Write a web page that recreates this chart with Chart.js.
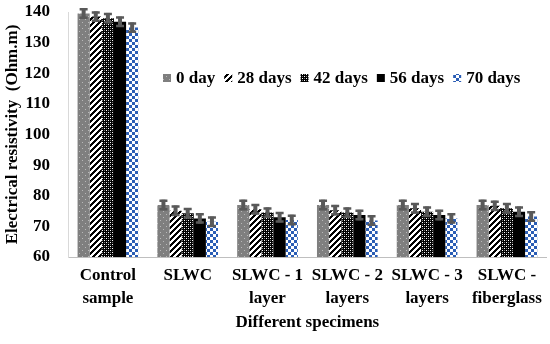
<!DOCTYPE html>
<html>
<head>
<meta charset="utf-8">
<script src="https://cdn.jsdelivr.net/npm/chart.js@4/dist/chart.umd.min.js"></script>
<style>
  html, body { margin:0; padding:0; background:#fff; }
  canvas { display:block; }
</style>
</head>
<body>
<canvas id="chart" width="550" height="344"></canvas>
<script>

const categories = [
    ["Control", "sample"],
    "SLWC",
    ["SLWC - 1", "layer"],
    ["SLWC - 2", "layers"],
    ["SLWC - 3", "layers"],
    ["SLWC -", "fiberglass"]
];

const seriesNames = ["0 day", "28 days", "42 days", "56 days", "70 days"];

const day0  = [139.5, 77.0, 77.0, 77.0, 77.0, 77.0];
const day28 = [138.5, 75.1, 75.6, 75.3, 75.9, 76.7];
const day42 = [138.0, 74.3, 74.5, 74.5, 74.8, 75.9];
const day56 = [136.8, 72.6, 73.0, 73.7, 73.7, 74.8];
const day70 = [134.9, 71.5, 72.1, 71.9, 72.6, 73.2];

const errors = [1.7, 1.7, 1.7, 1.7, 1.7];

const yTicks = [60, 70, 80, 90, 100, 110, 120, 130, 140];

const FONT = "'Liberation Serif', 'Times New Roman', serif";

// small pattern tiles
function makePattern(size, paint){
    const c = document.createElement('canvas');
    c.width = size;
    c.height = size;
    const g = c.getContext('2d');
    paint(g, size);
    return g.createPattern(c, 'repeat');
}

const patDots = makePattern(6, (g, s) => {
    g.fillStyle = '#7f7f7f';
    g.fillRect(0, 0, s, s);
    g.fillStyle = '#b8b8b8';
    g.fillRect(1, 1, 1, 1);
    g.fillRect(4, 4, 1, 1);
});

const patStripes = makePattern(6, (g, s) => {
    g.fillStyle = '#ffffff';
    g.fillRect(0, 0, s, s);
    g.fillStyle = '#000000';
    for(let x = 0; x < s; x++){
        for(let y = 0; y < s; y++){
            if((x + y) % 6 < 3) g.fillRect(x, y, 1, 1);
        }
    }
});

const patGrid = makePattern(4, (g, s) => {
    g.fillStyle = '#000000';
    g.fillRect(0, 0, s, s);
    g.fillStyle = '#ffffff';
    g.fillRect(0, 0, 1, 1);
    g.fillRect(2, 2, 1, 1);
    g.fillStyle = '#777777';
    g.fillRect(2, 0, 1, 1);
    g.fillRect(0, 2, 1, 1);
});

const patChecker = makePattern(6, (g, s) => {
    g.fillStyle = '#ffffff';
    g.fillRect(0, 0, s, s);
    g.fillStyle = '#2a5db5';
    g.fillRect(0, 0, 3, 3);
    g.fillRect(3, 3, 3, 3);
});

const fills = [patDots, patStripes, patGrid, '#000000', patChecker];
const seriesData = [day0, day28, day42, day56, day70];

const errorBarPlugin = {

    id: 'errorBars',

    afterDatasetsDraw(chart){

        const ctx = chart.ctx;
        const y = chart.scales.y;

        ctx.save();
        ctx.strokeStyle = '#595959';
        ctx.lineWidth = 4;

        chart.data.datasets.forEach((ds, i) => {

            const meta = chart.getDatasetMeta(i);

            meta.data.forEach((bar, j) => {

                const v = ds.data[j];
                const e = errors[i];
                const yt = y.getPixelForValue(v + e);
                const yb = y.getPixelForValue(v - e);

                ctx.beginPath();
                ctx.moveTo(bar.x, yt);
                ctx.lineTo(bar.x, yb);
                ctx.stroke();

                ctx.lineWidth = 2.5;
                ctx.beginPath();
                ctx.moveTo(bar.x - 4, yt + 1);
                ctx.lineTo(bar.x + 4, yt + 1);
                ctx.moveTo(bar.x - 4, yb - 1);
                ctx.lineTo(bar.x + 4, yb - 1);
                ctx.stroke();
                ctx.lineWidth = 4;
            });
        });

        ctx.restore();
    }
};

const legendPlugin = {

    id: 'innerLegend',

    afterDraw(chart){

        const ctx = chart.ctx;
        let x = 163;
        const yc = 78;

        ctx.save();
        ctx.font = "bold 17px " + FONT;
        ctx.textBaseline = 'middle';

        chart.data.datasets.forEach(ds => {

            ctx.fillStyle = ds.backgroundColor;
            ctx.fillRect(x, yc - 4, 8, 8);
            x += 13;

            ctx.fillStyle = '#000';
            ctx.fillText(ds.label, x, yc + 1);
            x += ctx.measureText(ds.label).width + 9;
        });

        ctx.restore();
    }
};

new Chart(document.getElementById('chart'), {

    type: 'bar',

    data: {
        labels: categories,
        datasets: seriesNames.map((name, i) => ({
            label: name,
            data: seriesData[i],
            backgroundColor: fills[i],
            borderWidth: 0,
            barPercentage: 1,
            categoryPercentage: 0.76
        }))
    },

    plugins: [errorBarPlugin, legendPlugin],

    options: {

        responsive: false,
        animation: false,
        devicePixelRatio: 1,

        layout: {
            padding: { top: 12, right: 2, left: 0, bottom: 0 }
        },

        plugins: {
            legend: { display: false },
            tooltip: { enabled: false }
        },

        scales: {

            x: {
                grid: { display: false, drawTicks: false },
                border: { display: true, color: '#bfbfbf', width: 1 },
                ticks: {
                    color: '#000',
                    padding: 8,
                    maxRotation: 0,
                    autoSkip: false,
                    font: { family: FONT, size: 17, weight: 'bold', lineHeight: 1.3 }
                },
                title: {
                    display: true,
                    text: 'Different specimens',
                    color: '#000',
                    padding: { top: 0, bottom: 11 },
                    font: { family: FONT, size: 17, weight: 'bold' }
                },
                afterFit(scale){
                    scale.height = 87;
                }
            },

            y: {
                min: 60,
                max: 140,
                afterBuildTicks(scale){
                    scale.ticks = yTicks.map(v => ({ value: v }));
                },
                grid: { display: false, drawTicks: false },
                border: { display: true, color: '#d9d9d9', width: 1 },
                ticks: {
                    color: '#000',
                    padding: 18,
                    font: { family: FONT, size: 17, weight: 'bold' }
                },
                title: {
                    display: true,
                    text: 'Electrical resistivity  (Ohm.m)',
                    color: '#000',
                    padding: { top: 2, bottom: 0 },
                    font: { family: FONT, size: 17, weight: 'bold' }
                },
                afterFit(scale){
                    scale.width = 68;
                    scale.paddingTop = 0;
                    scale.paddingBottom = 0;
                }
            }
        }
    }
});
</script>
</body>
</html>
